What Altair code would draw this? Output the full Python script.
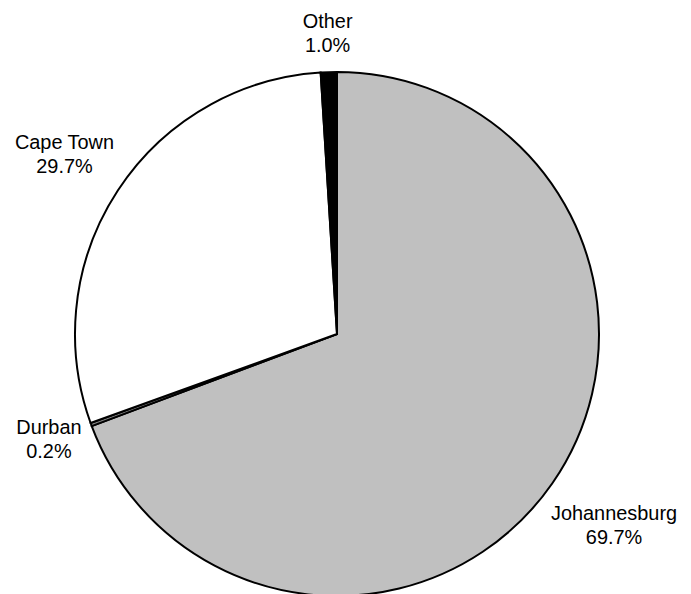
import altair as alt
import pandas as pd

cities = ["Johannesburg", "Durban", "Cape Town", "Other"]
shares = [69.7, 0.2, 29.7, 1.0]
pct_labels = ["69.7%", "0.2%", "29.7%", "1.0%"]
fill_colors = ["#c0c0c0", "#808080", "#ffffff", "#000000"]
label_radius = [337, 307, 326, 300]

total = sum(shares)

df = pd.DataFrame({
    "city": cities,
    "share": shares,
    "order": list(range(len(cities))),
    "label": [f"{c}\n{p}" for c, p in zip(cities, pct_labels)],
    "lr": label_radius,
})

arcs = alt.Chart(df).mark_arc(outerRadius=262, stroke="black", strokeWidth=2).encode(
    theta=alt.Theta("share:Q", stack=True),
    order=alt.Order("order:Q"),
    color=alt.Color("city:N", scale=alt.Scale(domain=cities, range=fill_colors), legend=None),
)

labels = alt.Chart(df).transform_window(
    cum="sum(share)", sort=[alt.SortField("order")], frame=[None, 0]
).transform_calculate(
    mid="datum.cum - datum.share / 2"
).mark_text(
    font="Liberation Sans", fontSize=19.9, lineBreak="\n", lineHeight=24, dy=-12,
    align="center", baseline="middle", color="black"
).encode(
    theta=alt.Theta("mid:Q", stack=None, scale=alt.Scale(domain=[0, total])),
    radius=alt.Radius("lr:Q", scale=None),
    text="label:N",
)

chart = alt.layer(arcs, labels).resolve_scale(theta="independent").properties(
    width=658, height=652,
    padding={"left": 0, "top": 0, "right": 17, "bottom": 0},
    autosize=alt.AutoSizeParams(type="none"),
    background="white",
).configure_view(strokeWidth=0)

chart.save("out.html", embed_options={"renderer": "svg", "actions": False})
